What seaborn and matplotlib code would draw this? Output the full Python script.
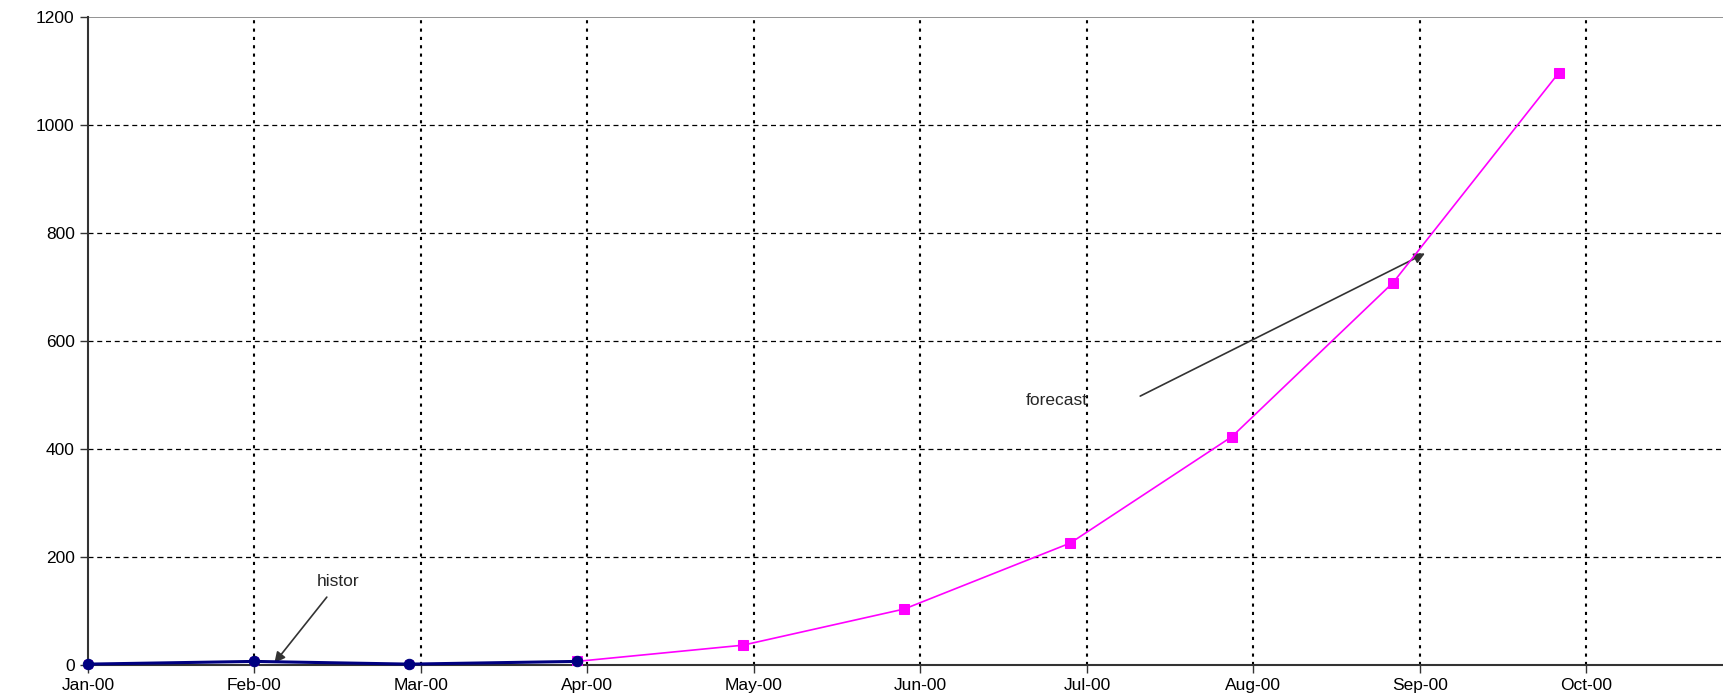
import pandas as pd
import matplotlib
matplotlib.use('Agg')
import matplotlib.pyplot as plt
import seaborn as sns

# Daten
month_labels = ['Jan-00', 'Feb-00', 'Mar-00', 'Apr-00', 'May-00',
                'Jun-00', 'Jul-00', 'Aug-00', 'Sep-00', 'Oct-00']
hist_dates = ['2000-01-01', '2000-02-01', '2000-02-28', '2000-03-30']
hist_values = [2, 7, 2, 7]
fit_dates = ['2000-01-01', '2000-02-01', '2000-02-28']
fit_values = [2, 7, 2]
forecast_dates = ['2000-03-30', '2000-04-29', '2000-05-29', '2000-06-28',
                  '2000-07-28', '2000-08-27', '2000-09-26']
forecast_values = [7, 37, 104, 226, 423, 708, 1096]


def month_pos(dates):
    # Excel-artige Achse: jeder Monat gleich breit
    d = pd.to_datetime(pd.Series(dates))
    return (d.dt.month - 1) + (d.dt.day - 1) / d.dt.days_in_month


df_hist = pd.DataFrame({'x': month_pos(hist_dates), 'y': hist_values})
df_fit = pd.DataFrame({'x': month_pos(fit_dates), 'y': fit_values})
df_fc = pd.DataFrame({'x': month_pos(forecast_dates), 'y': forecast_values})

sns.set_style('white')
plt.rcParams['font.family'] = ['Liberation Sans', 'DejaVu Sans']

fig = plt.figure(figsize=(17.23, 6.98), dpi=100)
ax = fig.add_axes([0.051, 0.047, 0.949, 0.929])

# Prognose
sns.lineplot(data=df_fc, x='x', y='y', ax=ax, color='#ff00ff', linewidth=1.2,
             marker='s', markersize=7, markeredgecolor='#ff00ff', zorder=4)
sns.scatterplot(data=df_fit, x='x', y='y', ax=ax, color='#ff00ff', marker='s',
                s=40, edgecolor='#ff00ff', zorder=5, clip_on=False)
# Historie
sns.lineplot(data=df_hist, x='x', y='y', ax=ax, color='#000080', linewidth=2.2,
             marker='o', markersize=7.5, markeredgecolor='#000080', zorder=6,
             clip_on=False)

ax.set_xlim(0, 9.82)
ax.set_ylim(0, 1200)
ax.set_xticks(range(len(month_labels)))
ax.set_xticklabels(month_labels)
ax.set_yticks(range(0, 1201, 200))
ax.set_xlabel('')
ax.set_ylabel('')

# Gitter
for yv in range(200, 1001, 200):
    ax.axhline(yv, color='black', linestyle=(0, (4, 3)), linewidth=0.9, zorder=1)
ax.axhline(1200, color='#808080', linewidth=1.2, zorder=1)
for xv in range(1, len(month_labels)):
    ax.axvline(xv, color='black', linestyle=(0, (1.5, 2.5)), linewidth=1.5, zorder=1)

for side in ['top', 'right']:
    ax.spines[side].set_visible(False)
for side in ['left', 'bottom']:
    ax.spines[side].set_color('#333333')
    ax.spines[side].set_linewidth(1.5)

ax.tick_params(axis='both', direction='out', length=6, width=1, colors='#333333',
               labelsize=12.5, labelcolor='black', bottom=True, left=True)

# Beschriftungen
ax.text(1.5, 155, 'histor', ha='center', va='center', fontsize=12.5)
ax.annotate('', xy=(1.12, 4), xytext=(1.435, 126),
            arrowprops=dict(arrowstyle='-|>', color='#333333', lw=1.2,
                            shrinkA=0, shrinkB=0, mutation_scale=16))
ax.text(5.82, 490, 'forecast', ha='center', va='center', fontsize=12.5)
ax.annotate('', xy=(8.03, 762), xytext=(6.32, 498),
            arrowprops=dict(arrowstyle='-|>', color='#333333', lw=1.2,
                            shrinkA=0, shrinkB=0, mutation_scale=16))

plt.savefig('out.png', dpi=100)
